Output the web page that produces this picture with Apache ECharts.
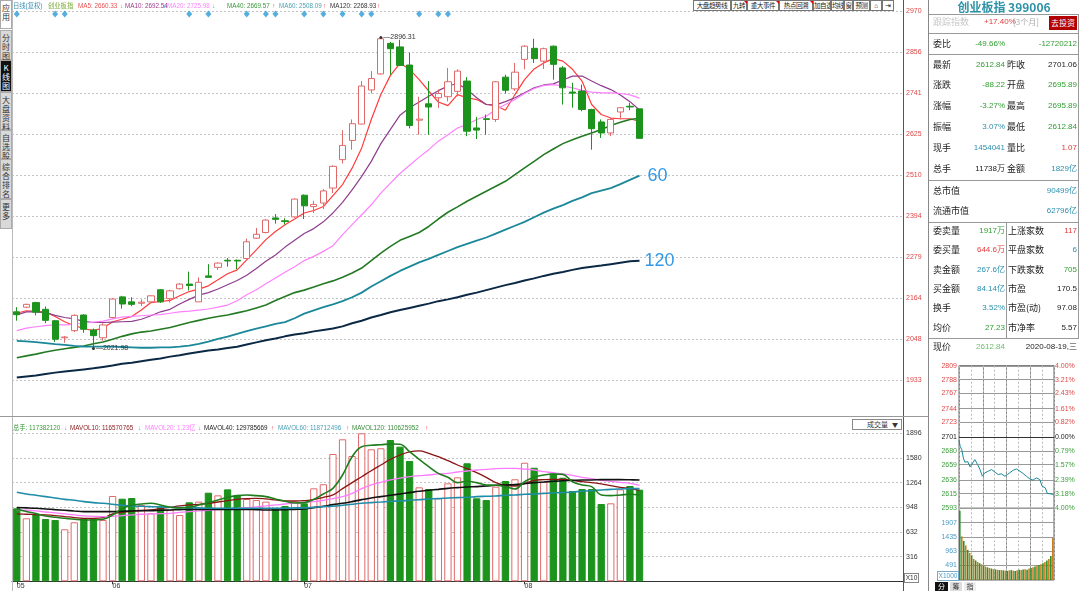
<!DOCTYPE html>
<html><head><meta charset="utf-8">
<script src="https://cdn.jsdelivr.net/npm/echarts@6/dist/echarts.min.js"></script>
<style>
html,body{margin:0;padding:0;background:#fff;}
#wrap{position:relative;width:1080px;height:591px;overflow:hidden;font-family:"Liberation Sans","Noto Sans CJK SC",sans-serif;}
#chart{position:absolute;left:0;top:0;width:1080px;height:591px;}
.ov{position:absolute;white-space:nowrap;pointer-events:none;}
.sb{position:absolute;left:0;width:12px;box-sizing:border-box;background:#d9d9d9;border:1px solid #aaa;font-family:"Noto Sans CJK SC";font-size:8px;line-height:9px;text-align:center;color:#333;padding-top:2px;}
.tb{position:absolute;top:0;height:11px;box-sizing:border-box;border:1px solid #777;background:#fff;font-family:"Noto Sans CJK SC";font-size:6.5px;line-height:9px;text-align:center;color:#222;white-space:nowrap;overflow:hidden;letter-spacing:-0.4px;}
.lg{position:absolute;font-size:6.3px;line-height:9px;white-space:nowrap;}
.pl{position:absolute;font-family:"Noto Sans CJK SC";font-size:9px;line-height:14px;color:#222;white-space:nowrap;}
.pv{position:absolute;font-size:8px;line-height:14px;white-space:nowrap;text-align:right;}
.hl{position:absolute;height:1px;background:#888;}
.vl{position:absolute;width:1px;background:#888;}
</style></head>
<body>
<div id="wrap">
<div id="chart"></div>
<div id="ovl"></div>
</div>
<script>
// ---------------- DATA ----------------
const dates = ['2020-05-18','2020-05-19','2020-05-20','2020-05-21','2020-05-22','2020-05-25','2020-05-26','2020-05-27','2020-05-28','2020-05-29',
'2020-06-01','2020-06-02','2020-06-03','2020-06-04','2020-06-05','2020-06-08','2020-06-09','2020-06-10','2020-06-11','2020-06-12','2020-06-15','2020-06-16','2020-06-17','2020-06-18','2020-06-19','2020-06-22','2020-06-23','2020-06-24','2020-06-29','2020-06-30',
'2020-07-01','2020-07-02','2020-07-03','2020-07-06','2020-07-07','2020-07-08','2020-07-09','2020-07-10','2020-07-13','2020-07-14','2020-07-15','2020-07-16','2020-07-17','2020-07-20','2020-07-21','2020-07-22','2020-07-23','2020-07-24','2020-07-27','2020-07-28','2020-07-29','2020-07-30','2020-07-31',
'2020-08-03','2020-08-04','2020-08-05','2020-08-06','2020-08-07','2020-08-10','2020-08-11','2020-08-12','2020-08-13','2020-08-14','2020-08-17','2020-08-18','2020-08-19'];
const openP  = [2125,2138,2151,2132,2100,2052,2072,2116,2074,2052,2109,2167,2153,2149,2153,2187,2162,2190,2203,2153,2226,2250,2270,2270,2275,2332,2348,2389,2381,2392,2453,2421,2431,2473,2553,2607,2653,2749,2794,2880,2870,2819,2664,2710,2727,2730,2745,2774,2642,2668,2666,2785,2752,2835,2866,2830,2872,2811,2743,2746,2694,2659,2628,2687,2703,2695.89];
const closeP = [2117,2146,2124,2101,2048,2054,2115,2076,2058,2088,2161,2147,2146,2152,2170,2153,2184,2203,2199,2208,2222,2262,2268,2268,2322,2343,2383,2385,2379,2442,2423,2427,2465,2534,2593,2654,2760,2781,2893,2865,2818,2649,2667,2701,2739,2772,2802,2633,2636,2666,2772,2748,2799,2872,2837,2865,2821,2755,2740,2694,2640,2628,2666,2699,2701.06,2612.84];
const lowP   = [2100,2135,2115,2093,2040,2038,2068,2066,2021.98,2044,2107,2134,2141,2141,2150,2150,2151,2188,2185,2153,2221,2243,2252,2245,2273,2330,2346,2373,2371,2390,2386,2403,2414,2459,2542,2581,2652,2739,2792,2792,2816,2641,2623,2623,2698,2717,2731,2619,2611,2623,2659,2739,2746,2807,2825,2808,2778,2708,2699,2689,2581,2614,2619,2666,2692,2612.84];
const highP  = [2138,2148,2153,2140,2102,2057,2118,2118,2078,2093,2163,2170,2166,2160,2172,2189,2187,2206,2238,2222,2259,2264,2276,2272,2331,2361,2386,2400,2388,2444,2455,2437,2470,2537,2636,2666,2774,2802,2896.31,2884,2890,2854,2730,2774,2750,2811,2807,2785,2673,2680,2774,2792,2825,2875,2893,2868,2874,2816,2769,2764,2696,2666,2670,2701,2713,2695.89];
const ma5   = [2121,2128,2126,2124,2112,2097,2086,2078,2072,2079,2097,2104,2112,2130,2151,2154,2157,2170,2182,2189,2198,2215,2232,2243,2271,2299,2328,2351,2370,2386,2403,2410,2421,2452,2483,2529,2586,2666,2736,2790,2824,2807,2778,2746,2715,2705,2736,2727,2722,2708,2705,2692,2736,2778,2808,2825,2837,2830,2807,2774,2708,2680,2670,2668,2668,2660.33];
const ma10  = [2116,2125,2125,2123,2115,2109,2105,2098,2095,2095,2096,2097,2098,2104,2114,2125,2132,2147,2160,2172,2179,2189,2201,2213,2228,2247,2267,2285,2307,2326,2345,2359,2378,2403,2433,2468,2506,2548,2598,2638,2678,2699,2715,2731,2747,2760,2767,2750,2727,2708,2707,2716,2727,2741,2755,2763,2766,2777,2788,2788,2774,2761,2750,2735,2716,2692.54];
const ma20  = [2072,2079,2083,2086,2088,2088,2090,2093,2096,2099,2105,2110,2112,2114,2116,2117,2121,2125,2127,2130,2133,2138,2144,2156,2173,2187,2204,2220,2236,2252,2269,2281,2295,2311,2342,2370,2398,2426,2459,2487,2514,2537,2560,2581,2605,2623,2642,2652,2666,2675,2694,2708,2722,2739,2753,2762,2764,2760,2755,2748,2743,2741,2741,2739,2735,2725.98];
const ma40  = [1996,2001,2006,2012,2017,2021,2025,2029,2035,2040,2048,2056,2063,2068,2071,2076,2081,2088,2095,2101,2107,2112,2116,2122,2128,2136,2144,2157,2168,2179,2186,2195,2204,2212,2222,2234,2248,2269,2290,2309,2326,2337,2348,2365,2386,2405,2420,2436,2450,2464,2478,2492,2511,2530,2548,2567,2583,2598,2609,2619,2628,2638,2649,2658,2666,2669.57];
const ma60  = [2043,2042,2040,2037,2034,2032,2029,2027,2027,2027,2027,2026,2025,2024,2024,2025,2025,2027,2030,2035,2041,2049,2055,2063,2071,2078,2084,2091,2096,2107,2120,2129,2138,2146,2155,2166,2179,2196,2211,2226,2240,2252,2264,2274,2285,2296,2307,2316,2325,2334,2345,2356,2367,2378,2391,2404,2415,2425,2437,2447,2459,2466,2473,2484,2496,2508.09];
const ma120 = [1940,1943,1946,1950,1954,1957,1960,1963,1966,1970,1974,1979,1982,1986,1990,1994,1999,2003,2008,2012,2016,2019,2023,2027,2033,2039,2045,2050,2056,2061,2065,2070,2074,2078,2084,2093,2100,2109,2116,2124,2130,2136,2142,2148,2155,2160,2166,2173,2179,2186,2193,2200,2206,2213,2219,2226,2232,2237,2243,2248,2252,2255,2259,2263,2267,2268.93];
// volume in axis units (x10^5)
const volume = [935,807,858,798,785,666,756,807,807,785,1093,1058,1067,977,871,948,913,849,1012,1021,1135,1101,1178,1106,1054,1041,1021,935,965,1021,999,1191,1243,1631,1819,1605,1896,1691,1704,1810,1725,1541,1204,1182,1063,1255,1332,1512,1063,1041,1212,1285,1307,1519,1455,1276,1383,1327,1157,1182,1182,990,999,1178,1221,1173.8];
const mavol10  = [863,859,854,850,842,829,816,807,807,816,863,884,897,905,914,931,948,965,978,986,999,1016,1033,1050,1059,1063,1055,1042,1029,1029,1033,1046,1076,1106,1187,1264,1340,1417,1490,1562,1618,1657,1670,1639,1596,1545,1490,1443,1392,1332,1264,1230,1221,1255,1293,1302,1306,1306,1293,1276,1264,1247,1225,1204,1187,1165.7];
const mavol20  = [914,910,901,888,876,863,850,837,833,829,833,842,850,859,863,867,871,884,893,901,910,918,927,935,944,953,965,978,990,1004,1012,1021,1038,1059,1085,1127,1187,1234,1268,1298,1323,1340,1353,1362,1375,1383,1400,1413,1426,1434,1443,1447,1447,1438,1426,1404,1392,1375,1357,1332,1315,1293,1281,1268,1255,1230];
const mavol40  = [944,940,935,927,918,910,901,893,893,893,893,897,901,905,905,910,914,918,922,922,922,922,922,922,922,918,914,914,918,922,927,944,961,982,999,1021,1046,1068,1085,1102,1119,1136,1153,1166,1178,1191,1200,1208,1213,1221,1230,1234,1238,1251,1264,1272,1281,1289,1293,1298,1298,1302,1302,1302,1300,1297.9];
const mavol60  = [1140,1119,1102,1085,1068,1050,1038,1021,1008,999,987,974,965,961,957,953,948,944,944,940,935,935,935,935,935,935,935,935,935,940,940,948,957,961,974,987,999,1008,1016,1025,1029,1038,1046,1055,1059,1068,1072,1076,1085,1089,1093,1102,1106,1115,1119,1127,1132,1136,1144,1153,1161,1170,1178,1183,1187,1187];
const mavol120 = [922,893,867,837,820,807,794,786,786,794,850,931,974,990,999,978,948,940,948,978,1008,1042,1076,1097,1106,1097,1085,1055,1025,1004,1008,1050,1119,1191,1362,1596,1725,1742,1750,1759,1755,1661,1562,1469,1383,1332,1264,1281,1264,1234,1230,1213,1183,1276,1332,1362,1375,1370,1276,1234,1213,1106,1097,1106,1115,1106];
const eventBars = [0,4,5,18,20,24,26,27,30,32,34,36,37,42,44,45];
const priceTicks = [1933,2048,2164,2279,2394,2510,2625,2741,2856,2970];
const volTicks = [316,632,948,1264,1580,1896];
// intraday (2020-08-19)
const prevClose = 2701.06;
const intradayMinute = [0,3,7,11,15,22,28,32,40,47,53,59,65,74,82,91,99,107,116,122,128,137,145,149,154,162,170,179,187,195,204,210,218,223,229,237,240];
const intradayPrice = [2695.89,2686.9,2681.9,2669.3,2662.7,2663.7,2655.7,2659.2,2666.8,2659.2,2651.7,2641.6,2646.6,2649.1,2651.7,2647.6,2644.1,2645.1,2641.6,2644.1,2646.6,2650.6,2652.6,2654.1,2649.1,2645.6,2641.6,2637.6,2635.5,2639.1,2636.6,2626.5,2624.0,2615.4,2615.0,2613.9,2612.84];
const miniTicks = [2593,2615,2636,2659,2680,2701,2723,2744,2767,2788,2809];
const miniPct = ['4.00%','3.18%','2.39%','1.57%','0.79%','0.00%','0.82%','1.61%','2.43%','3.21%','4.00%'];
const miniVolMinute = [2,7,12,17,22,27,32,37,42,47,52,57,62,67,72,77,82,87,92,97,102,107,112,117,122,127,132,137,142,147,152,157,162,167,172,177,182,187,192,197,202,207,212,217,222,227,232,237];
const miniVol = [2300,1450,1300,1150,1000,900,820,700,650,600,560,520,480,450,420,400,380,360,350,340,330,330,320,310,300,320,330,310,300,320,340,330,350,360,340,380,400,420,450,480,500,520,560,600,650,700,800,1400];
const miniVolTicks = [491,963,1435,1907];

// ---------------- CHART ----------------
const UP='#e06a6a', DN='#1c931c';
const FONT='Liberation Sans';
const plain = (v)=> String(v);
const miniMin = 2592.9, miniMax = 2809.2;
const chart = echarts.init(document.getElementById('chart'));
const candle = openP.map((o,i)=>[o, closeP[i], lowP[i], highP[i]]);
const volData = volume.map((v,i)=> closeP[i]>=openP[i]
  ? {value:v, itemStyle:{color:'#fff', borderColor:UP, borderWidth:1}}
  : {value:v, itemStyle:{color:DN, borderColor:DN, borderWidth:1}});
const monthStart = (idx)=> idx===0 || (dates[idx] && dates[idx-1] && dates[idx].slice(5,7)!==dates[idx-1].slice(5,7));
const dotted = {color:'#c4c4c4', type:[2,2], width:1};
const miniColor = (v)=> Math.abs(v-prevClose)<1 ? '#222' : (v>prevClose ? '#e04848' : '#3a9e3a');
function maLine(name, data, color, width, extra){
  return Object.assign({type:'line', name, data, xAxisIndex:0, yAxisIndex:0, showSymbol:false, symbol:'none', silent:true,
    lineStyle:{color, width}, itemStyle:{color}, z:3}, extra||{});
}
function vLine(name, data, color, width){
  return {type:'line', name, data, xAxisIndex:1, yAxisIndex:1, showSymbol:false, symbol:'none', silent:true, smooth:0.4,
    lineStyle:{color, width}, itemStyle:{color}, z:3};
}
const option = {
  animation:false,
  backgroundColor:'#fff',
  textStyle:{fontFamily:FONT},
  grid:[
    {left:12, top:11, width:891, height:405},
    {left:12, top:418, width:891, height:163.3},
    {left:959, top:365.7, width:95, height:142.6, show:true, borderColor:'#666', borderWidth:1},
    {left:959, top:508.3, width:95, height:71.7, show:true, borderColor:'#666', borderWidth:1}
  ],
  xAxis:[
    {gridIndex:0, type:'category', data:dates, max:92, show:false},
    {gridIndex:1, type:'category', data:dates, max:92,
      axisLine:{show:true, lineStyle:{color:'#333'}},
      axisTick:{show:true, alignWithLabel:true, length:3, interval:(i)=>monthStart(i), lineStyle:{color:'#333'}},
      axisLabel:{show:true, interval:(i)=>monthStart(i), formatter:(v)=> v ? v.slice(5,7) : '', color:'#333', fontSize:7, margin:1, align:'left'},
      splitLine:{show:false}},
    {gridIndex:2, type:'value', min:0, max:240, interval:60, axisLine:{show:false}, axisTick:{show:false}, axisLabel:{show:false},
      splitLine:{show:true, lineStyle:{color:'#888', width:1}}},
    {gridIndex:2, type:'value', min:0, max:240, interval:30, axisLine:{show:false}, axisTick:{show:false}, axisLabel:{show:false},
      splitLine:{show:true, lineStyle:{color:'#bbb', type:[2,2]}}},
    {gridIndex:3, type:'value', min:0, max:240, interval:60, axisLine:{show:false}, axisTick:{show:false}, axisLabel:{show:false},
      splitLine:{show:true, lineStyle:{color:'#888', width:1}}},
    {gridIndex:3, type:'value', min:0, max:240, interval:30, axisLine:{show:false}, axisTick:{show:false}, axisLabel:{show:false},
      splitLine:{show:true, lineStyle:{color:'#bbb', type:[2,2]}}}
  ],
  yAxis:[
    {gridIndex:0, type:'value', position:'right', min:1832, max:2971, scale:true,
      axisLine:{show:false}, axisTick:{show:false, customValues:priceTicks},
      axisLabel:{customValues:priceTicks, formatter:plain, color:'#e04848', fontSize:7, margin:3},
      splitLine:{show:true, lineStyle:dotted}},
    {gridIndex:1, type:'value', position:'right', min:0, max:2092,
      axisLine:{show:false}, axisTick:{show:false, customValues:volTicks},
      axisLabel:{customValues:volTicks, formatter:plain, color:'#333', fontSize:7, margin:3},
      splitLine:{show:true, lineStyle:dotted}},
    {gridIndex:2, type:'value', position:'left', min:miniMin, max:miniMax,
      axisLine:{show:false}, axisTick:{show:false, customValues:miniTicks},
      axisLabel:{customValues:miniTicks, formatter:plain, fontSize:7, margin:2, color:miniColor},
      splitLine:{show:true, lineStyle:{color:'#999', width:1}}},
    {gridIndex:2, type:'value', position:'right', min:miniMin, max:miniMax,
      axisLine:{show:false}, axisTick:{show:false, customValues:miniTicks},
      axisLabel:{customValues:miniTicks, fontSize:7, margin:1,
        formatter:(v)=>{const k=miniTicks.indexOf(v); return k>=0?miniPct[k]:'';}, color:miniColor},
      splitLine:{show:false}},
    {gridIndex:3, type:'value', position:'left', min:0, max:2383,
      axisLine:{show:false}, axisTick:{show:false, customValues:miniVolTicks},
      axisLabel:{customValues:miniVolTicks, formatter:plain, fontSize:7, margin:2, color:'#4a9cc8'},
      splitLine:{show:true, lineStyle:{color:'#999', width:1}}}
  ],
  series:[
    {type:'candlestick', name:'K', data:candle, xAxisIndex:0, yAxisIndex:0, barWidth:'70%', silent:true, z:4,
      itemStyle:{color:'#fff', color0:DN, borderColor:UP, borderColor0:DN, borderWidth:1},
      markPoint:{symbol:'circle', symbolSize:3, itemStyle:{color:'#333'}, silent:true,
        label:{show:true, position:'right', distance:1, color:'#333', fontSize:7, formatter:(p)=>'—'+p.value},
        data:[{type:'max', valueDim:'highest'},{type:'min', valueDim:'lowest'}]}},
    maLine('MA5', ma5, '#ff3b3b', 1.2),
    maLine('MA10', ma10, '#8e3d8e', 1.2),
    maLine('MA20', ma20, '#ff80ff', 1.2),
    maLine('MA40', ma40, '#237a23', 1.6),
    maLine('MA60', ma60, '#1b8899', 1.8, {endLabel:{show:true, formatter:'60', color:'#3399e6', fontSize:18, distance:8, fontFamily:FONT}}),
    maLine('MA120', ma120, '#0b2844', 2, {endLabel:{show:true, formatter:'120', color:'#3399e6', fontSize:18, distance:5, fontFamily:FONT}}),
    {type:'scatter', name:'events', xAxisIndex:0, yAxisIndex:0, silent:true, symbol:'diamond', symbolSize:[6,7], symbolOffset:[0,3],
      itemStyle:{color:'#2b9bd6'}, data:eventBars.map(i=>[i, 2971]), z:5},
    {type:'bar', name:'VOL', data:volData, xAxisIndex:1, yAxisIndex:1, barWidth:'76%', silent:true, z:2},
    vLine('MAVOL10', mavol10, '#8b1414', 1.3),
    vLine('MAVOL20', mavol20, '#ff7cff', 1.3),
    vLine('MAVOL40', mavol40, '#111111', 1.6),
    vLine('MAVOL60', mavol60, '#1f8ca8', 1.6),
    vLine('MAVOL120', mavol120, '#1e7e1e', 1.6),
    {type:'line', name:'intraday', data:intradayMinute.map((m,i)=>[m, intradayPrice[i]]), xAxisIndex:2, yAxisIndex:2,
      showSymbol:false, symbol:'none', silent:true, lineStyle:{color:'#1a8a9a', width:1}, z:4,
      markLine:{silent:true, symbol:'none', label:{show:false}, lineStyle:{color:'#333', width:1.2, type:'solid'}, data:[{yAxis:prevClose}]}},
    {type:'bar', name:'minivol', data:miniVolMinute.map((m,i)=>[m, miniVol[i]]), xAxisIndex:4, yAxisIndex:4, barWidth:1.6, silent:true,
      itemStyle:{color:(p)=> p.dataIndex%2 ? '#c97c1e' : '#2c8f2c'}}
  ]
};
chart.setOption(option);

// ---------------- OVERLAY (chrome / panels) ----------------
const ov = document.getElementById('ovl');
function add(html){ ov.insertAdjacentHTML('beforeend', html); }
add('<div class="vl" style="left:12px;top:0;height:591px;background:#bbb"></div>');
add('<div class="vl" style="left:903px;top:0;height:591px;background:#555"></div>');
add('<div class="hl" style="left:0;top:416px;width:929px;background:#999"></div>');
add('<div class="vl" style="left:928px;top:0;height:591px;background:#888"></div>');
const sideBtns = [['应<br>用',0,29,'#fff','#333'],['分<br>时<br>图',30,30,'#d9d9d9','#333'],['K<br>线<br>图',60,32,'#111','#fff'],['大<br>盘<br>资<br>料',92,38,'#d9d9d9','#333'],['自<br>选<br>股',130,29,'#d9d9d9','#333'],['综<br>合<br>排<br>名',159,40,'#d9d9d9','#333'],['更<br>多',199,30,'#d9d9d9','#333']];
sideBtns.forEach(b=>add(`<div class="sb" style="top:${b[1]}px;height:${b[2]}px;background:${b[3]};color:${b[4]}">${b[0]}</div>`));
const tools = [[693,38,'大盘趋势线'],[731,16,'九转'],[747,32,'重大事件'],[779,34,'热点回溯'],[813,18,'加自选'],[831,13,'均线'],[844,9,'窗'],[853,17,'预测'],[870,12,'&#x2302;'],[882,12,'&#x21E5;']];
tools.forEach(t=>add(`<div class="tb" style="left:${t[0]}px;width:${t[1]}px">${t[2]}</div>`));
[[744],[776],[810]].forEach(p=>add(`<div class="ov" style="left:${p[0]}px;top:1px;width:0;height:0;border-left:3px solid transparent;border-top:3px solid #e00000"></div>`));
const topLg = [[13,'日线(复权)','#3a8fb0'],[48,'创业板指','#7aa830'],[78,'MA5: 2660.33','#e85050'],[120,'↓','#30a8e0'],[125,'MA10: 2692.54','#9a3a8a'],[163,'↓','#30a8e0'],[167,'MA20: 2725.98','#ff80ff'],[212,'↓','#30a8e0'],[227,'MA40: 2669.57','#3a983a'],[272,'↑','#ff4040'],[279,'MA60: 2508.09','#4aa0b0'],[323,'↑','#ff4040'],[330,'MA120: 2268.93','#333'],[377,'↑','#ff4040']];
topLg.forEach(t=>add(`<div class="lg" style="left:${t[0]}px;top:1px;color:${t[2]}">${t[1]}</div>`));
const volLg = [[13,'总手: 117382120','#3a9a3a'],[64,'↓','#30a8e0'],[70,'MAVOL10: 116570765','#8b2020'],[138,'↓','#30a8e0'],[145,'MAVOL20: 1.23亿','#ff80ff'],[198,'↓','#30a8e0'],[204,'MAVOL40: 129785669','#222'],[271,'↑','#ff4040'],[278,'MAVOL60: 118712496','#4aa0b8'],[346,'↑','#ff4040'],[352,'MAVOL120: 110625952','#3a8a3a'],[425,'↑','#ff4040']];
volLg.forEach(t=>add(`<div class="lg" style="left:${t[0]}px;top:423px;color:${t[2]}">${t[1]}</div>`));
add('<div class="ov" style="left:852px;top:419px;width:50px;height:11px;box-sizing:border-box;border:1px solid #888;background:#fff;font-family:\'Noto Sans CJK SC\';font-size:7px;line-height:9px;color:#333;padding-left:14px">成交量<span style="position:absolute;right:3px;font-size:6px">▼</span></div>');
add('<div class="ov" style="left:904px;top:573px;width:15px;height:10px;box-sizing:border-box;border:1px solid #888;font-size:6.5px;line-height:8px;color:#333;text-align:center">X10</div>');

const G='#2f9e2f', R='#e23b3b', T='#2b8fae', K='#222';
add('<div class="ov" style="left:929px;top:0;width:150px;text-align:center;font-family:\'Noto Sans CJK SC\';font-size:12px;line-height:14px;font-weight:bold;color:#2d92a8">创业板指 399006</div>');
[14,33,54,180,222,338].forEach(y=>add(`<div class="hl" style="left:929px;top:${y}px;width:150px;background:#999"></div>`));
add('<div class="vl" style="left:1078px;top:14px;height:324px;background:#999"></div>');
add('<div class="vl" style="left:1006px;top:222px;height:116px;background:#999"></div>');
add(`<div class="pl" style="left:933px;top:15px;color:#c8c8c8">跟踪指数</div>`);
add(`<div class="pv" style="left:984px;top:15px;color:${R}">+17.40%</div>`);
add(`<div class="pl" style="left:1013px;top:15px;color:#aaa;font-size:8px">[3个月]</div>`);
add('<div class="ov" style="left:1049px;top:16px;width:28px;height:14px;background:#b30000;color:#fff;font-family:\'Noto Sans CJK SC\';font-size:8px;line-height:14px;text-align:center">去投资</div>');
function prow(y,l1,v1,c1,l2,v2,c2,x2){
  add(`<div class="pl" style="left:933px;top:${y-7}px">${l1}</div>`);
  if(v1!==null) add(`<div class="pv" style="right:75px;top:${y-7}px;color:${c1}">${v1}</div>`);
  if(l2) add(`<div class="pl" style="left:${x2||1007}px;top:${y-7}px">${l2}</div>`);
  if(v2!==null) add(`<div class="pv" style="right:3px;top:${y-7}px;color:${c2}">${v2}</div>`);
}
prow(44,'委比','-49.66%',G,null,'-12720212',G);
prow(65,'最新','2612.84',G,'昨收','2701.06',K);
prow(85,'涨跌','-88.22',G,'开盘','2695.89',G);
prow(106,'涨幅','-3.27%',G,'最高','2695.89',G);
prow(127,'振幅','3.07%',T,'最低','2612.84',G);
prow(148,'现手','1454041',T,'量比','1.07',R);
prow(169,'总手','11738万',K,'金额','1829亿',T);
prow(191,'总市值',null,null,null,'90499亿',T);
prow(211,'流通市值',null,null,null,'62796亿',T);
prow(231,'委卖量','1917万',G,'上涨家数','117',R,1008);
prow(250,'委买量','644.6万',R,'平盘家数','6',T,1008);
prow(270,'卖金额','267.6亿',T,'下跌家数','705',G,1008);
prow(289,'买金额','84.14亿',T,'市盈','170.5',K,1008);
prow(308,'换手','3.52%',T,'市盈(动)','97.08',K,1008);
prow(328,'均价','27.23',G,'市净率','5.57',K,1008);
prow(347,'现价','2612.84','#6cbf6c',null,'2020-08-19,三',K);
add('<div class="ov" style="left:937px;top:571px;width:22px;height:10px;box-sizing:border-box;border:1px solid #7aa8c8;font-size:6.5px;line-height:8px;color:#4a9cc8;text-align:center">X1000</div>');
add('<div class="ov" style="left:935px;top:582px;width:13px;height:9px;background:#111;color:#fff;font-family:\'Noto Sans CJK SC\';font-size:7px;line-height:9px;text-align:center">分</div>');
add('<div class="ov" style="left:950px;top:582px;width:12px;height:9px;background:#ddd;color:#333;font-family:\'Noto Sans CJK SC\';font-size:7px;line-height:9px;text-align:center">筹</div>');
add('<div class="ov" style="left:964px;top:582px;width:12px;height:9px;background:#eee;color:#333;font-family:\'Noto Sans CJK SC\';font-size:7px;line-height:9px;text-align:center">指</div>');
</script>
</body></html>
